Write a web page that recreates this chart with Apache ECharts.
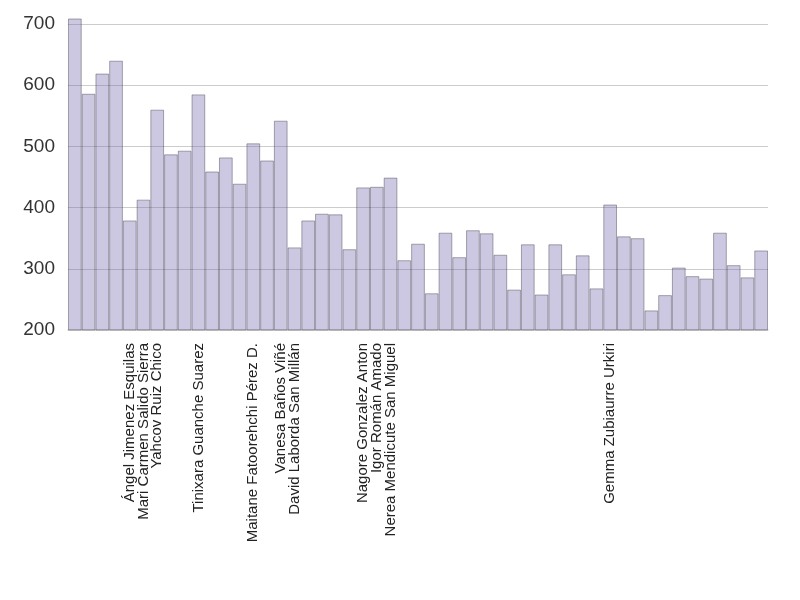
<!DOCTYPE html>
<html>
<head>
<meta charset="utf-8">
<script src="https://cdn.jsdelivr.net/npm/echarts@6/dist/echarts.min.js"></script>
<style>html,body{margin:0;padding:0;background:#fff;}#c{width:800px;height:600px;}</style>
</head>
<body>
<div id="c"></div>
<script>
var values = [709, 586, 619, 640, 379, 413, 560, 487, 493, 585,
              459, 482, 439, 505, 477, 542, 335, 379, 390, 389,
              332, 433, 434, 449, 314, 341, 260, 359, 319, 363,
              358, 323, 266, 340, 258, 340, 291, 322, 268, 405,
              353, 350, 232, 257, 302, 288, 284, 359, 306, 286, 330];

var labeledIndex = [4, 5, 6, 9, 13, 15, 16, 21, 22, 23, 39];
var labeledNames = ["Ángel Jimenez Esquilas", "Mari Carmen Salido Sierra", "Yahcov Ruiz Chico",
                    "Tinixara Guanche Suarez", "Maitane Fatoorehchi Pérez D.",
                    "Vanesa Baños Viñé", "David Laborda San Millán",
                    "Nagore Gonzalez Anton", "Igor Román Amado", "Nerea Mendicute San Miguel",
                    "Gemma Zubiaurre Urkiri"];

var yTicks = [200, 300, 400, 500, 600, 700];

var categories = values.map(function (v, i) { return 'c' + i; });
var tickLabels = categories.map(function () { return ''; });
labeledIndex.forEach(function (idx, k) { tickLabels[idx] = labeledNames[k]; });

var font = 'Liberation Sans, Arial, sans-serif';
var chart = echarts.init(document.getElementById('c'), null, {renderer: 'canvas'});
chart.setOption({
  animation: false,
  backgroundColor: '#fff',
  grid: {left: 68, right: 32, top: -37.2, bottom: 270, containLabel: false, outerBoundsMode: 'none'},
  xAxis: {
    type: 'category',
    data: categories,
    axisTick: {show: false},
    axisLine: {show: true, lineStyle: {color: '#d9d9d9', width: 1.5}},
    axisLabel: {
      interval: 0, rotate: 90, margin: 13,
      fontSize: 15, fontFamily: font, color: '#222',
      formatter: function (v, i) { return tickLabels[i]; }
    },
    splitLine: {show: false}
  },
  yAxis: {
    type: 'value',
    min: yTicks[0], max: 800, interval: 100,
    axisLine: {show: false},
    axisTick: {show: false},
    axisLabel: {fontSize: 19, fontFamily: font, color: '#333', margin: 13},
    splitLine: {show: true, lineStyle: {color: '#cccccc', width: 1.2}}
  },
  series: [{
    type: 'bar',
    data: values,
    barCategoryGap: '0%',
    itemStyle: {
      color: 'rgba(117,107,177,0.37)',
      borderColor: 'rgba(60,58,70,0.42)',
      borderWidth: 1
    }
  }]
});
</script>
</body>
</html>
